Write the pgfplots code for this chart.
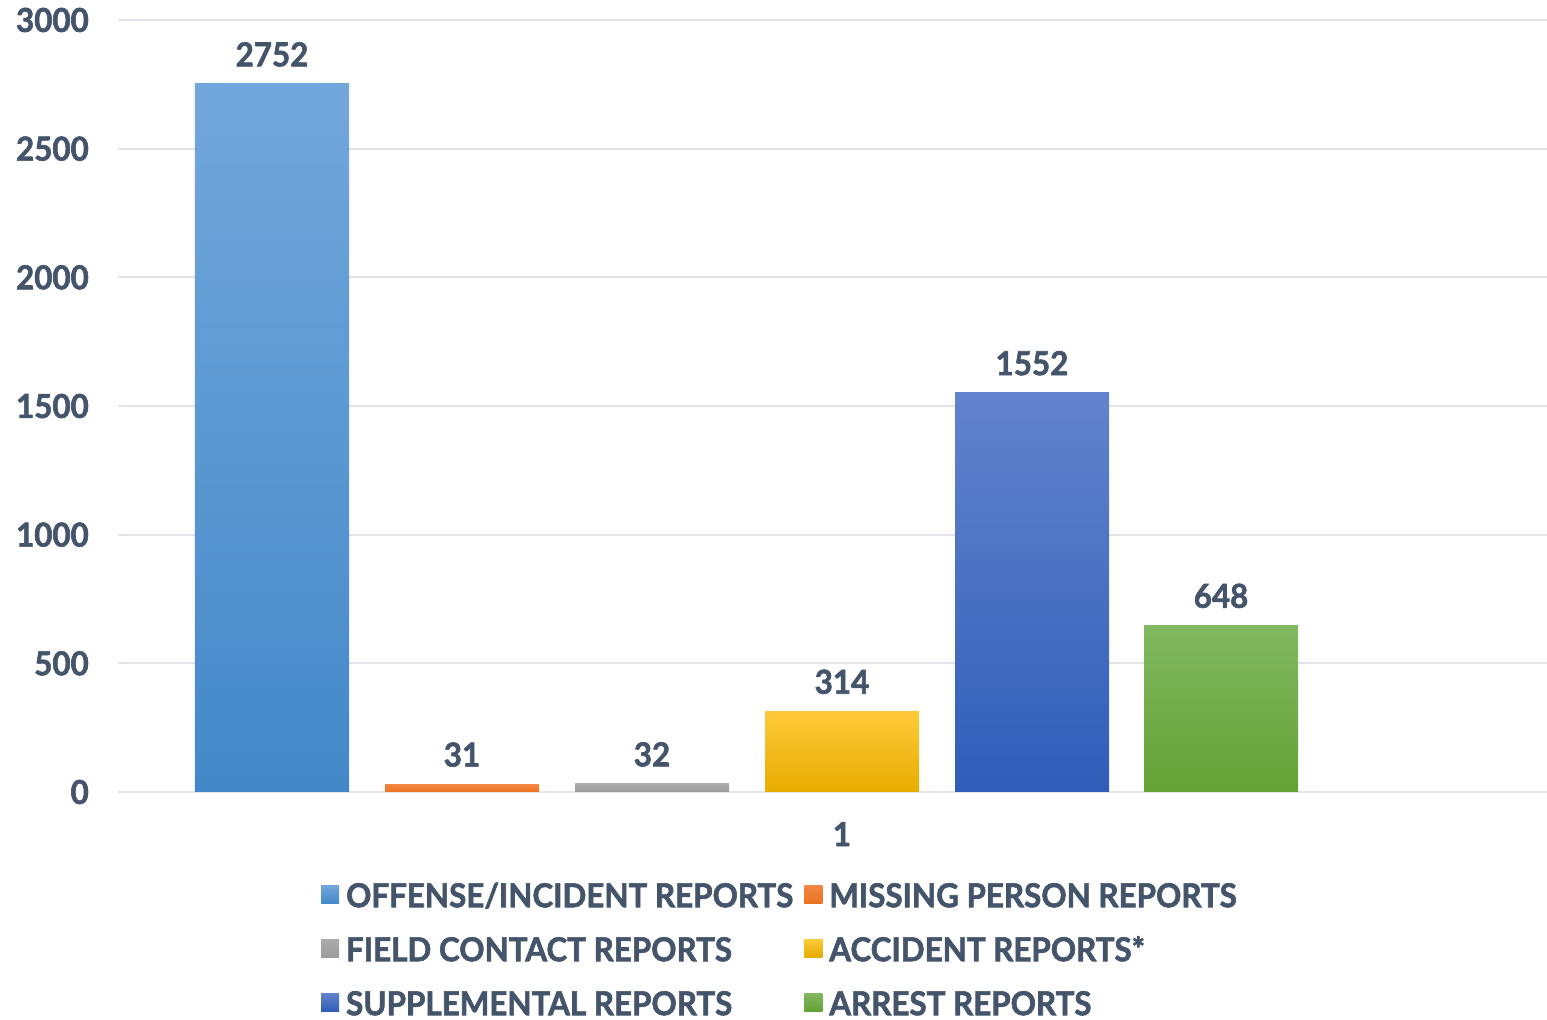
\documentclass[border=0pt]{standalone}
\usepackage{pgfplots}
\pgfplotsset{compat=1.18}
\usepackage{fontspec}
\setmainfont{Lato}[FakeStretch=0.95, BoldFeatures={FakeBold=1.8}]
\definecolor{txt}{HTML}{44546A}
\definecolor{gridc}{HTML}{E1E4E8}
\begin{document}
\begin{tikzpicture}
\begin{axis}[
  scale only axis,
  width=1429pt, height=772pt,
  xmin=118, xmax=1547,
  ymin=0, ymax=3000,
  axis line style={draw=none},
  ytick={0,500,1000,1500,2000,2500,3000},
  xtick={842}, xticklabels={1},
  major tick length=0pt,
  ymajorgrids,
  major grid style={draw=gridc, line width=2pt},
  tick label style={font=\fontsize{33}{33}\selectfont\bfseries, text=txt, inner sep=0pt},
  /pgf/number format/assume math mode=true,
  /pgf/number format/1000 sep={},
  yticklabel style={anchor=east, xshift=-29pt},
  xticklabel style={anchor=north, yshift=-30pt},
  nodes near coords,
  every node near coord/.append style={font=\fontsize{33}{33}\selectfont\bfseries, text=txt, inner sep=0pt, anchor=south, yshift=17pt},
  clip=false,
  legend columns=2,
  legend cell align=left,
  legend style={draw=none, fill=none, inner sep=0pt, at={(0.142,-0.1179)}, anchor=north west,
    font=\fontsize{33}{33}\selectfont\bfseries, text=txt,
    row sep=30pt,
    nodes={inner sep=0pt, text height=24pt, text depth=0pt},
    /tikz/every even column/.append style={column sep=11pt},
    /tikz/every odd column/.append style={column sep=7pt}},
  legend image code/.code={\path[#1, draw=none] (0pt,-8pt) rectangle (18pt,10pt);},
]
\addplot[ybar, bar width=154, bar shift=0pt, draw=none, top color={rgb,255:red,114;green,167;blue,219}, bottom color={rgb,255:red,67;green,136;blue,200}] coordinates {(272,2752)};
\addlegendentry{OFFENSE/INCIDENT REPORTS}
\addplot[ybar, bar width=154, bar shift=0pt, draw=none, top color={rgb,255:red,245;green,135;blue,70}, bottom color={rgb,255:red,232;green,114;blue,30}] coordinates {(462,31)};
\addlegendentry{MISSING PERSON REPORTS}
\addplot[ybar, bar width=154, bar shift=0pt, draw=none, top color={rgb,255:red,172;green,172;blue,172}, bottom color={rgb,255:red,155;green,155;blue,155}] coordinates {(652,32)};
\addlegendentry{FIELD CONTACT REPORTS}
\addplot[ybar, bar width=154, bar shift=0pt, draw=none, top color={rgb,255:red,255;green,202;blue,58}, bottom color={rgb,255:red,229;green,172;blue,0}] coordinates {(842,314)};
\addlegendentry{ACCIDENT REPORTS*}
\addplot[ybar, bar width=154, bar shift=0pt, draw=none, top color={rgb,255:red,98;green,131;blue,204}, bottom color={rgb,255:red,47;green,93;blue,184}] coordinates {(1032,1552)};
\addlegendentry{SUPPLEMENTAL REPORTS}
\addplot[ybar, bar width=154, bar shift=0pt, draw=none, top color={rgb,255:red,130;green,184;blue,97}, bottom color={rgb,255:red,99;green,162;blue,52}] coordinates {(1221,648)};
\addlegendentry{ARREST REPORTS}
\coordinate (bl) at (axis cs:0,-886.0);
\coordinate (tr) at (axis cs:1547,3077.7);
\end{axis}
\pgfresetboundingbox
\path (bl) rectangle (tr);
\end{tikzpicture}
\end{document}
